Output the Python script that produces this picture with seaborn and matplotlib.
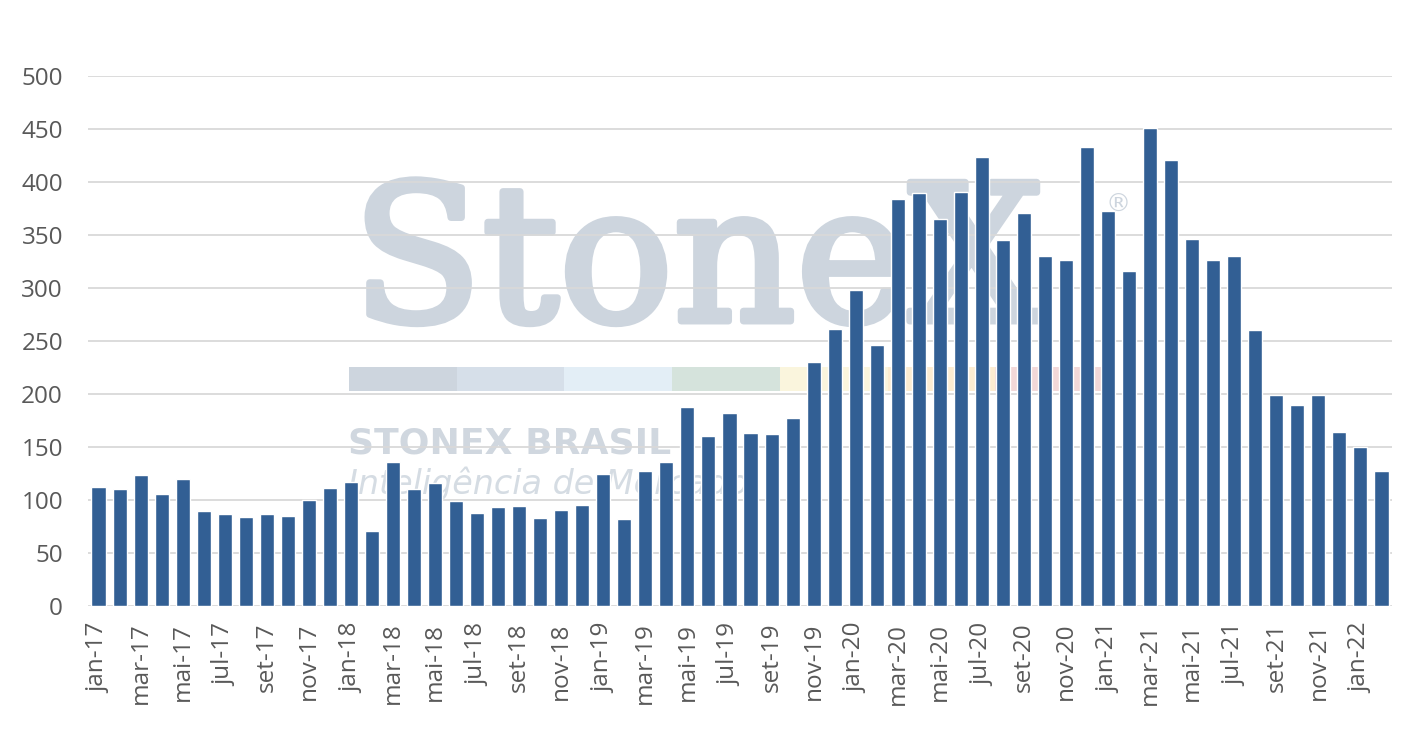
import numpy as np
import pandas as pd
import matplotlib
matplotlib.use("Agg")
import matplotlib.pyplot as plt
import matplotlib.patheffects as pe
from matplotlib.patches import Rectangle
import seaborn as sns

# Monthly values, jan-17 .. fev-22
month_abbr = ["jan", "fev", "mar", "abr", "mai", "jun",
              "jul", "ago", "set", "out", "nov", "dez"]
years = ["17", "18", "19", "20", "21", "22"]
values = [
    112, 110, 124, 106, 119.5, 90, 87, 84, 87, 85, 100, 111,      # 2017
    117, 71, 135.5, 110, 116, 99, 88, 93, 94, 83, 91, 95,         # 2018
    125, 82, 127, 136, 187.5, 160, 182.5, 163, 162, 177, 230, 261,  # 2019
    298, 246, 384, 390, 365, 391, 424, 345, 371, 330, 326, 433,   # 2020
    373, 316, 451, 421, 346, 326, 330, 260, 199, 190, 199, 164,   # 2021
    150, 127,                                                      # 2022
]
months = [f"{m}-{y}" for y in years for m in month_abbr][:len(values)]
yticks = [0, 50, 100, 150, 200, 250, 300, 350, 400, 450, 500]

df = pd.DataFrame({"mes": months, "valor": values})

sns.set_theme(style="white")
plt.rcParams["font.family"] = ["Open Sans", "DejaVu Sans"]

fig = plt.figure(figsize=(14.22, 7.34), dpi=100)
ax = fig.add_axes([88 / 1422, 1 - 606 / 734, (1392 - 88) / 1422, 530 / 734])

# watermark (behind grid and bars)
wm = "#cdd5de"
ax.text(352 / 1422, 1 - 321 / 734, "StoneX", transform=fig.transFigure,
        family="DejaVu Serif", fontsize=137, color=wm,
        va="baseline", ha="left", zorder=0.1,
        path_effects=[pe.withStroke(linewidth=5, foreground=wm)])
ax.text(1118 / 1422, 1 - 205 / 734, "®", transform=fig.transFigure,
        family="DejaVu Sans", fontsize=18, color=wm, va="center", ha="center", zorder=0.1)
strip = ["#cdd5de", "#d6dfe9", "#e3eef6", "#d5e3dc", "#faf5dd", "#fcecd1", "#f2d8d8"]
seg = (1103 - 349) / len(strip)
for i, c in enumerate(strip):
    ax.add_patch(Rectangle(((349 + i * seg) / 1422, 1 - 391 / 734), seg / 1422, 24 / 734,
                           transform=fig.transFigure, color=c, lw=0, zorder=0.1))
ax.text(348 / 1422, 1 - 454 / 734, "STONEX BRASIL", transform=fig.transFigure,
        family="DejaVu Sans", fontsize=26, weight="bold", color="#d0d7df",
        va="baseline", ha="left", zorder=0.1)
ax.text(348 / 1422, 1 - 494 / 734, "Inteligência de Mercado", transform=fig.transFigure,
        family="DejaVu Sans", fontsize=24, style="italic", weight="light", color="#d5dce3",
        va="baseline", ha="left", zorder=0.1)

sns.barplot(data=df, x="mes", y="valor", color="#325f94", saturation=1,
            width=0.67, ax=ax, zorder=2)

ax.set_axisbelow(True)
ax.set_ylim(0, 500)
ax.set_xlim(-0.5, len(values) - 0.5)
ax.set_yticks(yticks)
ax.yaxis.grid(True, color="#d9d9d9", linewidth=1.3)
ax.xaxis.grid(False)
for s in ax.spines.values():
    s.set_visible(False)

ax.set_xticks(range(0, len(values), 2))
ax.set_xticklabels(months[::2], rotation=90)
ax.tick_params(axis="x", length=0, pad=12, labelsize=17.5, labelcolor="#595959")
ax.tick_params(axis="y", length=0, pad=18, labelsize=17.5, labelcolor="#595959")
ax.set_xlabel("")
ax.set_ylabel("")

fig.savefig("out.png", dpi=100, facecolor="white")
